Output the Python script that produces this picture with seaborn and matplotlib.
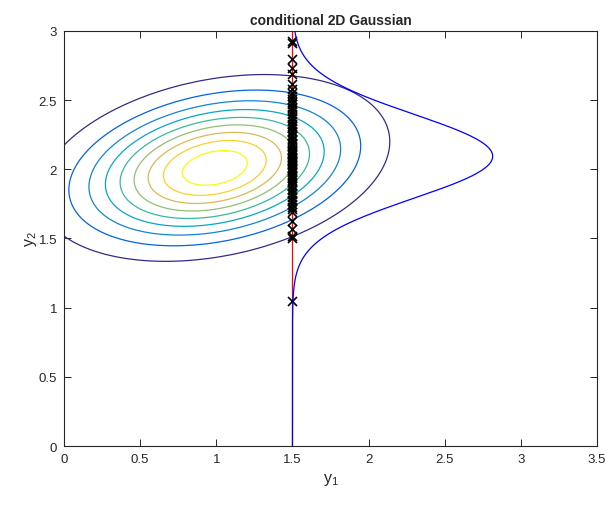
import numpy as np
import matplotlib
matplotlib.use('Agg')
import matplotlib.pyplot as plt
import seaborn as sns
from matplotlib.colors import LinearSegmentedColormap

# joint Gaussian
mu = [0.99, 2.01]
cov = [[0.29, 0.048], [0.048, 0.10]]
levels = [0.1, 0.2, 0.3, 0.4, 0.5, 0.6, 0.7, 0.8, 0.9]

# conditioning value and the samples drawn at it
y1_cond = 1.5
samples_y2 = [2.93, 2.91, 2.80, 2.73, 2.69, 2.62, 2.58, 2.55, 2.53, 2.51, 2.49,
              2.47, 2.45, 2.44, 2.42, 2.40, 2.38, 2.37, 2.35, 2.33, 2.31, 2.30,
              2.28, 2.27, 2.25, 2.24, 2.22, 2.21, 2.19, 2.18, 2.17, 2.15, 2.14,
              2.13, 2.12, 2.11, 2.10, 2.09, 2.08, 2.07, 2.06, 2.05, 2.04, 2.03,
              2.02, 2.01, 2.00, 1.99, 1.98, 1.96, 1.95, 1.94, 1.92, 1.91, 1.89,
              1.88, 1.86, 1.85, 1.83, 1.82, 1.80, 1.78, 1.77, 1.75, 1.73, 1.71,
              1.69, 1.63, 1.57, 1.52, 1.50, 1.05]

xticks = [0, 0.5, 1, 1.5, 2, 2.5, 3, 3.5]
xtick_labels = ['0', '0.5', '1', '1.5', '2', '2.5', '3', '3.5']
yticks = [0, 0.5, 1, 1.5, 2, 2.5, 3]
ytick_labels = ['0', '0.5', '1', '1.5', '2', '2.5', '3']

# MATLAB parula anchors
parula_pts = [(0.2081, 0.1663, 0.5292), (0.0117, 0.3875, 0.8820),
              (0.0793, 0.5200, 0.8312), (0.0228, 0.6535, 0.7768),
              (0.2178, 0.7250, 0.6193), (0.5709, 0.7485, 0.4494),
              (0.8507, 0.7299, 0.3360), (0.9880, 0.8066, 0.1794),
              (0.9763, 0.9831, 0.0538)]
parula = LinearSegmentedColormap.from_list('parula', parula_pts)

sns.set_style('white')
plt.rcParams['font.family'] = ['Liberation Sans', 'DejaVu Sans']
plt.rcParams['mathtext.fontset'] = 'custom'
plt.rcParams['mathtext.rm'] = 'Liberation Sans'
plt.rcParams['mathtext.it'] = 'Liberation Sans'
axcol = (0.15, 0.15, 0.15)

fig = plt.figure(figsize=(6.1, 5.06), dpi=100)
ax = fig.add_axes([0.105, 0.1166, 0.8737, 0.8202])

# density on a grid
S = np.array(cov)
Si = np.linalg.inv(S)
gx = np.linspace(0, 3.5, 141)
gy = np.linspace(0, 3, 121)
X, Y = np.meshgrid(gx, gy)
dx, dy = X - mu[0], Y - mu[1]
q = Si[0, 0] * dx**2 + 2 * Si[0, 1] * dx * dy + Si[1, 1] * dy**2
Z = np.exp(-0.5 * q) / (2 * np.pi * np.sqrt(np.linalg.det(S)))
ax.contour(X, Y, Z, levels=levels, cmap=parula, linewidths=0.9)

# conditional p(y2 | y1 = 1.5)
m_c = mu[1] + cov[0][1] / cov[0][0] * (y1_cond - mu[0])
s_c = np.sqrt(cov[1][1] - cov[0][1]**2 / cov[0][0])
yy = np.linspace(0, 3, 301)
pdf = np.exp(-0.5 * ((yy - m_c) / s_c)**2) / (s_c * np.sqrt(2 * np.pi))

ax.plot([y1_cond, y1_cond], [0, 3], color='red', lw=0.9, zorder=2)
sns.scatterplot(x=[y1_cond] * len(samples_y2), y=samples_y2, marker='x',
                color='black', s=42, linewidth=1.2, ax=ax, zorder=3)
sns.lineplot(x=y1_cond + pdf, y=yy, sort=False, estimator=None, color='blue',
             lw=0.9, ax=ax, zorder=4)

ax.set_xlim(0, 3.5)
ax.set_ylim(0, 3)
ax.set_xticks(xticks)
ax.set_xticklabels(xtick_labels)
ax.set_yticks(yticks)
ax.set_yticklabels(ytick_labels)
ax.tick_params(direction='in', length=5, width=0.7, colors=axcol, labelsize=9.5,
               top=True, right=True, bottom=True, left=True, pad=5)
for sp in ax.spines.values():
    sp.set_color(axcol)
    sp.set_linewidth(0.8)

ax.set_xlabel(r'$\mathregular{y_1}$', fontsize=11.5, color=axcol, labelpad=4)
ax.set_ylabel(r'$\mathregular{y_2}$', fontsize=11.5, color=axcol, labelpad=0)
ax.set_title('conditional 2D Gaussian', fontsize=10, fontweight='bold', pad=5)

fig.savefig('out.png', dpi=100)
